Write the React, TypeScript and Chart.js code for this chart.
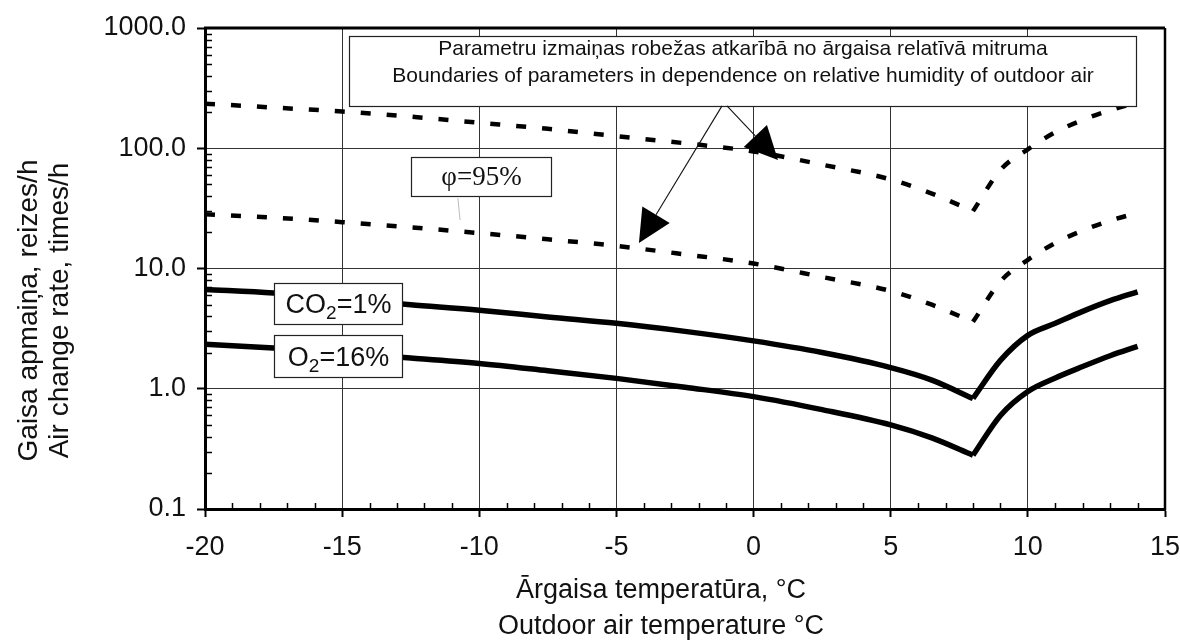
import React, { useEffect, useRef } from 'react';
import { Chart, registerables } from 'chart.js';

Chart.register(...registerables);

// ---------- data ----------
const temperatures = [-20, -17.5, -15, -12.5, -10, -7.5, -5, -2.5, 0, 2.5, 5, 6.5, 8, 9, 10, 11, 12, 13, 14];
const co2Rate = [6.7, 6.25, 5.6, 5.0, 4.5, 3.95, 3.5, 3.0, 2.5, 2.0, 1.5, 1.18, 0.83, 1.72, 2.78, 3.5, 4.4, 5.4, 6.4];
const o2Rate = [2.35, 2.18, 1.98, 1.8, 1.62, 1.41, 1.22, 1.03, 0.86, 0.67, 0.5, 0.39, 0.28, 0.6, 0.95, 1.23, 1.53, 1.88, 2.25];
const humidUpper = [235, 218, 202, 183, 163, 145, 126, 110, 94, 73, 55, 42, 30, 66, 98, 136, 172, 207, 240];
const humidLower = [28.3, 26.5, 24.3, 22, 19.7, 17.5, 15.4, 13.1, 11, 8.5, 6.5, 5.0, 3.6, 7.8, 11.8, 16.3, 20.7, 25, 29];
const kinkTemperature = 8;

const yTickValues = [0.1, 1, 10, 100, 1000];
const xMin = -20;
const xMax = 15;
const xStep = 5;

const yTitleLines = ['Gaisa apmaiņa, reizes/h', 'Air change rate, times/h'];
const xTitleLines = ['Ārgaisa temperatūra, °C', 'Outdoor air temperature °C'];
const noteLines = [
  'Parametru izmaiņas robežas atkarībā no ārgaisa relatīvā mitruma',
  'Boundaries of parameters in dependence on relative humidity of outdoor air',
];
const phiLabel = 'φ=95%';
const co2Label = ['CO', '2', '=1%'];
const o2Label = ['O', '2', '=16%'];

// annotation anchors in data coordinates [t, value]
const noteBox = { t0: -14.75, t1: 13.95, v0: 860, v1: 225 };
const phiBox = { t0: -12.5, t1: -7.4, v0: 85, v1: 40 };
const co2Box = { t0: -17.5, t1: -12.8, v0: 7.6, v1: 3.45 };
const o2Box = { t0: -17.5, t1: -12.8, v0: 2.8, v1: 1.25 };
const arrowA = { from: [-1.15, 225], to: [-4.18, 16.3] };
const arrowB = { from: [-0.97, 225], to: [0.89, 80] };
const phiLeader = { from: [-10.78, 38.4], to: [-10.7, 25.3] };

const SANS = '"Liberation Sans", Arial, Helvetica, sans-serif';
const SERIF = '"Liberation Serif", "Times New Roman", serif';

function branch(values: number[], left: boolean) {
  const k = temperatures.indexOf(kinkTemperature);
  const idx = temperatures.map((_, i) => i).filter((i) => (left ? i <= k : i >= k));
  return idx.map((i) => ({ x: temperatures[i], y: values[i] }));
}

const annotPlugin = {
  id: 'annot',
  beforeDatasetsDraw(chart: any) {
    const { ctx, chartArea: a, scales } = chart;
    const x = scales.x;
    const y = scales.y;
    ctx.save();
    ctx.strokeStyle = '#000';
    ctx.lineWidth = 1.5;
    for (let d = 0; d < yTickValues.length - 1; d++) {
      for (let k = 2; k <= 9; k++) {
        const py = Math.round(y.getPixelForValue(yTickValues[d] * k)) + 0.5;
        ctx.beginPath();
        ctx.moveTo(a.left, py);
        ctx.lineTo(a.left + 7, py);
        ctx.stroke();
      }
    }
    for (let t = xMin + 1; t < xMax; t++) {
      if (t % xStep === 0) continue;
      const px = Math.round(x.getPixelForValue(t)) + 0.5;
      ctx.beginPath();
      ctx.moveTo(px, a.bottom);
      ctx.lineTo(px, a.bottom - 6);
      ctx.stroke();
    }
    ctx.restore();
  },
  afterDatasetsDraw(chart: any) {
    const { ctx, chartArea: a, scales } = chart;
    const x = scales.x;
    const y = scales.y;
    const X = (t: number) => x.getPixelForValue(t);
    const Y = (v: number) => y.getPixelForValue(v);

    const rectOf = (b: any) => {
      const l = Math.round(X(b.t0)) + 0.5;
      const r = Math.round(X(b.t1)) + 0.5;
      const tp = Math.round(Y(b.v0)) + 0.5;
      const bt = Math.round(Y(b.v1)) + 0.5;
      return { l, r, tp, bt, cx: (l + r) / 2, cy: (tp + bt) / 2 };
    };
    const box = (b: any) => {
      const r = rectOf(b);
      ctx.fillStyle = '#fff';
      ctx.fillRect(r.l, r.tp, r.r - r.l, r.bt - r.tp);
      ctx.strokeStyle = '#222';
      ctx.lineWidth = 1.2;
      ctx.strokeRect(r.l, r.tp, r.r - r.l, r.bt - r.tp);
      return r;
    };

    ctx.save();
    ctx.strokeStyle = '#000';
    ctx.lineWidth = 3;
    ctx.beginPath();
    ctx.moveTo(a.left - 1, a.top);
    ctx.lineTo(a.right, a.top);
    ctx.stroke();
    ctx.lineWidth = 2.5;
    ctx.beginPath();
    ctx.moveTo(a.right, a.top);
    ctx.lineTo(a.right, a.bottom + 1);
    ctx.stroke();

    const nb = box(noteBox);
    ctx.fillStyle = '#111';
    ctx.font = `21px ${SANS}`;
    ctx.textAlign = 'center';
    ctx.textBaseline = 'middle';
    ctx.fillText(noteLines[0], nb.cx, nb.tp + 13);
    ctx.fillText(noteLines[1], nb.cx, nb.tp + 40);

    const arrow = (ar: any) => {
      const x0 = X(ar.from[0]);
      const y0 = Y(ar.from[1]);
      const x1 = X(ar.to[0]);
      const y1 = Y(ar.to[1]);
      const dx = x1 - x0;
      const dy = y1 - y0;
      const len = Math.hypot(dx, dy);
      const ux = dx / len;
      const uy = dy / len;
      const hl = 33;
      const hw = 16;
      const bx = x1 - ux * hl;
      const by = y1 - uy * hl;
      ctx.strokeStyle = '#111';
      ctx.lineWidth = 1.1;
      ctx.beginPath();
      ctx.moveTo(x0, y0);
      ctx.lineTo(bx, by);
      ctx.stroke();
      ctx.fillStyle = '#000';
      ctx.beginPath();
      ctx.moveTo(x1, y1);
      ctx.lineTo(bx - uy * hw, by + ux * hw);
      ctx.lineTo(bx + uy * hw, by - ux * hw);
      ctx.closePath();
      ctx.fill();
    };
    arrow(arrowA);
    arrow(arrowB);

    ctx.strokeStyle = '#bbb';
    ctx.lineWidth = 1;
    ctx.beginPath();
    ctx.moveTo(X(phiLeader.from[0]), Y(phiLeader.from[1]));
    ctx.lineTo(X(phiLeader.to[0]), Y(phiLeader.to[1]));
    ctx.stroke();
    const pb = box(phiBox);
    ctx.fillStyle = '#111';
    ctx.font = `27px ${SERIF}`;
    ctx.textAlign = 'center';
    ctx.textBaseline = 'middle';
    ctx.fillText(phiLabel, pb.cx, pb.cy + 1);

    const chem = (b: any, parts: string[]) => {
      const r = box(b);
      const big = `27px ${SANS}`;
      const small = `19px ${SANS}`;
      ctx.font = big;
      const w0 = ctx.measureText(parts[0]).width;
      const w2 = ctx.measureText(parts[2]).width;
      ctx.font = small;
      const w1 = ctx.measureText(parts[1]).width;
      const total = w0 + w1 + w2;
      let cx = r.cx - total / 2;
      const base = r.cy + 9;
      ctx.fillStyle = '#111';
      ctx.textAlign = 'left';
      ctx.textBaseline = 'alphabetic';
      ctx.font = big;
      ctx.fillText(parts[0], cx, base);
      cx += w0;
      ctx.font = small;
      ctx.fillText(parts[1], cx, base + 6);
      cx += w1;
      ctx.font = big;
      ctx.fillText(parts[2], cx, base);
    };
    chem(co2Box, co2Label);
    chem(o2Box, o2Label);

    ctx.fillStyle = '#111';
    ctx.textAlign = 'center';
    ctx.textBaseline = 'middle';
    ctx.font = `28px ${SANS}`;
    const midY = (a.top + a.bottom) / 2 + 42;
    ctx.save();
    ctx.translate(29, midY);
    ctx.rotate(-Math.PI / 2);
    ctx.fillText(yTitleLines[0], 0, 0);
    ctx.restore();
    ctx.save();
    ctx.translate(60, midY);
    ctx.rotate(-Math.PI / 2);
    ctx.fillText(yTitleLines[1], 0, 0);
    ctx.restore();
    ctx.font = `27px ${SANS}`;
    const midX = (a.left + a.right) / 2 - 24;
    ctx.fillText(xTitleLines[0], midX, a.bottom + 82);
    ctx.fillText(xTitleLines[1], midX, a.bottom + 118);
    ctx.restore();
  },
};

export default function App() {
  const ref = useRef<HTMLCanvasElement | null>(null);
  useEffect(() => {
    if (!ref.current) return;
    Chart.defaults.font.family = SANS;
    const solid = (label: string, data: any) => ({
      label,
      data,
      borderColor: '#000',
      borderWidth: 5.5,
      pointRadius: 0,
      cubicInterpolationMode: 'monotone',
      fill: false,
    });
    const dashed = (label: string, data: any) => ({
      label,
      data,
      borderColor: '#000',
      borderWidth: 4.5,
      borderDash: [10, 16],
      borderCapStyle: 'butt',
      pointRadius: 0,
      cubicInterpolationMode: 'monotone',
      fill: false,
    });
    const chart = new Chart(ref.current, {
      type: 'line',
      data: {
        datasets: [
          dashed('φ=95% upper (cold)', branch(humidUpper, true)),
          dashed('φ=95% upper (warm)', branch(humidUpper, false)),
          dashed('φ=95% lower (cold)', branch(humidLower, true)),
          dashed('φ=95% lower (warm)', branch(humidLower, false)),
          solid('CO2=1% (cold)', branch(co2Rate, true)),
          solid('CO2=1% (warm)', branch(co2Rate, false)),
          solid('O2=16% (cold)', branch(o2Rate, true)),
          solid('O2=16% (warm)', branch(o2Rate, false)),
        ] as any,
      },
      options: {
        responsive: false,
        animation: false,
        devicePixelRatio: 1,
        layout: { padding: { top: 28, right: 15, left: 0, bottom: 0 } },
        plugins: { legend: { display: false }, tooltip: { enabled: false } },
        scales: {
          x: {
            type: 'linear',
            min: xMin,
            max: xMax,
            afterFit: (s: any) => {
              s.height = 131;
              s.paddingLeft = 0;
              s.paddingRight = 0;
            },
            ticks: {
              stepSize: xStep,
              color: '#111',
              font: { size: 27 },
              padding: 14,
              maxRotation: 0,
            },
            grid: { color: '#333', lineWidth: 1, tickLength: 8, tickColor: '#000', tickWidth: 2 },
            border: { color: '#000', width: 3 },
          },
          y: {
            type: 'logarithmic',
            min: 0.1,
            max: 1000,
            afterFit: (s: any) => {
              s.width = 205;
              s.paddingTop = 0;
              s.paddingBottom = 0;
            },
            afterBuildTicks: (s: any) => {
              s.ticks = yTickValues.map((v) => ({ value: v, major: true }));
            },
            ticks: {
              color: '#111',
              font: { size: 27 },
              padding: 11,
              callback: (v: any) => Number(v).toFixed(1),
            },
            grid: { color: '#333', lineWidth: 1, tickLength: 8, tickColor: '#000', tickWidth: 2 },
            border: { color: '#000', width: 3 },
          },
        },
      },
      plugins: [annotPlugin],
    } as any);
    return () => chart.destroy();
  }, []);
  return (
    <div style={{ position: 'fixed', left: 0, top: 0, width: 1180, height: 640, background: '#fff' }}>
      <canvas ref={ref} width={1180} height={640} />
    </div>
  );
}
